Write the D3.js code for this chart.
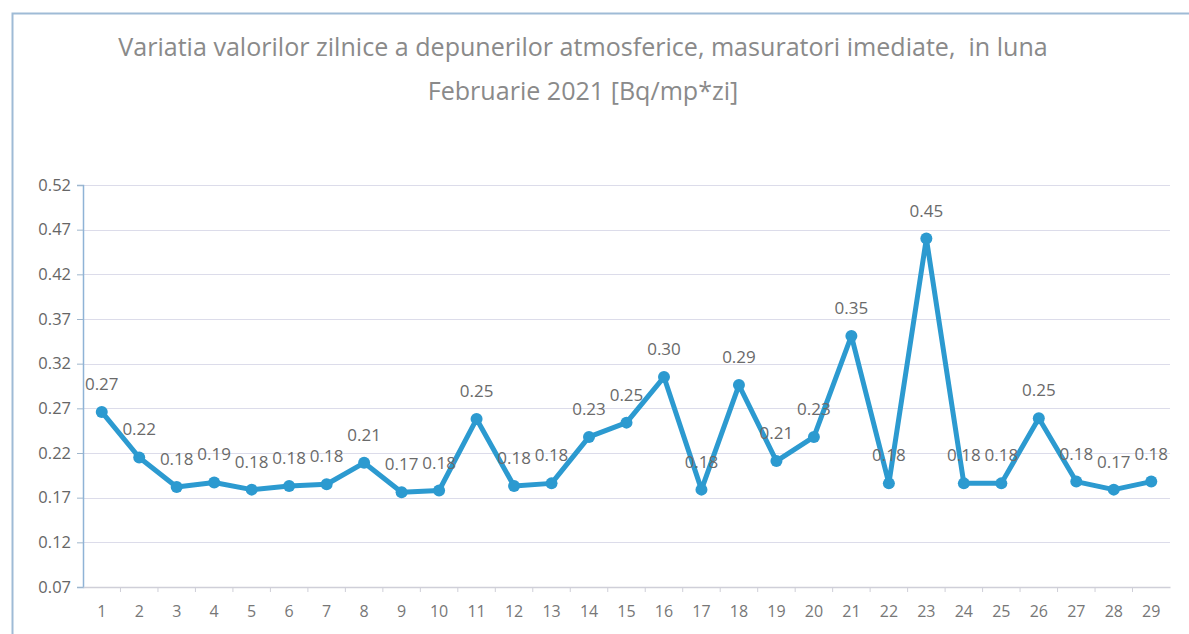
<!DOCTYPE html>
<html>
<head>
<meta charset="utf-8">
<script src="https://cdn.jsdelivr.net/npm/d3@7"></script>
<style>
  body { margin: 0; background: #fff; }
  svg { display: block; font-family: "Open Sans", "Noto Sans", sans-serif; }
</style>
</head>
<body>
<div id="chart"></div>
<script>
// data
const days = d3.range(1, 30).map(String);
const values = [0.266, 0.215, 0.182, 0.187, 0.179, 0.183, 0.185, 0.209, 0.176, 0.178,
  0.258, 0.183, 0.186, 0.238, 0.254, 0.305, 0.179, 0.296, 0.211, 0.238,
  0.351, 0.186, 0.460, 0.186, 0.186, 0.259, 0.188, 0.179, 0.188];
const valueLabels = ['0.27', '0.22', '0.18', '0.19', '0.18', '0.18', '0.18', '0.21', '0.17', '0.18',
  '0.25', '0.18', '0.18', '0.23', '0.25', '0.30', '0.18', '0.29', '0.21', '0.23',
  '0.35', '0.18', '0.45', '0.18', '0.18', '0.25', '0.18', '0.17', '0.18'];
const yTicks = [0.07, 0.12, 0.17, 0.22, 0.27, 0.32, 0.37, 0.42, 0.47, 0.52];
const titleLines = [
  'Variatia valorilor zilnice a depunerilor atmosferice, masuratori imediate,  in luna',
  'Februarie 2021 [Bq/mp*zi]'
];

const W = 1189;
const H = 634;
const margin = { t: 185, r: 19, b: 47, l: 83 };

const svg = d3.select('#chart').append('svg')
  .attr('width', W)
  .attr('height', H);

// chart frame
svg.append('rect')
  .attr('x', 12.5)
  .attr('y', 13.5)
  .attr('width', W + 20)
  .attr('height', H + 20)
  .attr('fill', 'none')
  .attr('stroke', '#9fbbd6')
  .attr('stroke-width', 2);

// title
const title = svg.append('g').attr('fill', '#8a8a8a');
title.selectAll('text')
  .data(titleLines)
  .join('text')
  .attr('x', 583)
  .attr('y', (d, i) => 56 + i * 44)
  .attr('text-anchor', 'middle')
  .attr('font-size', 19)
  .style('white-space', 'pre')
  .text(d => d);
const first = title.select('text').node();
const len = first.getComputedTextLength();
title.selectAll('text').attr('font-size', 19 * 930 / len);

const x = d3.scaleBand()
  .domain(days)
  .range([margin.l, W - margin.r]);

const y = d3.scaleLinear()
  .domain([0.07, 0.52])
  .range([H - margin.b, margin.t]);

// gridlines
svg.append('g')
  .selectAll('line')
  .data(yTicks.slice(1))
  .join('line')
  .attr('x1', margin.l)
  .attr('x2', W - margin.r)
  .attr('y1', d => Math.round(y(d)) + 0.5)
  .attr('y2', d => Math.round(y(d)) + 0.5)
  .attr('stroke', '#dcdcea')
  .attr('stroke-width', 1);

// y axis
const yAxis = d3.axisLeft(y)
  .tickValues(yTicks)
  .tickFormat(d3.format('.2f'))
  .tickSize(6)
  .tickPadding(6);

const gy = svg.append('g')
  .attr('transform', `translate(${margin.l}, 0)`)
  .call(yAxis);
gy.select('.domain').attr('stroke', '#8fb3d6').attr('stroke-width', 1.5);
gy.selectAll('.tick line').attr('stroke', '#9fb6cc');
gy.selectAll('.tick text')
  .attr('fill', '#666')
  .attr('font-size', 16.5)
  .attr('font-family', '"Open Sans", sans-serif');

// x axis
const xAxis = d3.axisBottom(x)
  .tickSize(0)
  .tickPadding(19);

const gx = svg.append('g')
  .attr('transform', `translate(0, ${H - margin.b})`)
  .call(xAxis);
gx.select('.domain').attr('stroke', '#cfcfd8').attr('stroke-width', 1.5);
gx.selectAll('.tick text')
  .attr('fill', '#777')
  .attr('font-size', 16)
  .attr('font-family', '"Open Sans", sans-serif');

// small ticks between categories
gx.append('g')
  .selectAll('line')
  .data(days.slice(1))
  .join('line')
  .attr('x1', d => x(d))
  .attr('x2', d => x(d))
  .attr('y1', 0)
  .attr('y2', 5)
  .attr('stroke', '#cfcfd8');

// series
const cx = (d, i) => x(days[i]) + x.bandwidth() / 2;

const line = d3.line()
  .x(cx)
  .y(d => y(d));

svg.append('path')
  .datum(values)
  .attr('fill', 'none')
  .attr('stroke', '#2c9ad0')
  .attr('stroke-width', 5)
  .attr('stroke-linejoin', 'round')
  .attr('stroke-linecap', 'round')
  .attr('d', line);

svg.append('g')
  .selectAll('circle')
  .data(values)
  .join('circle')
  .attr('cx', cx)
  .attr('cy', d => y(d))
  .attr('r', 6)
  .attr('fill', '#2c9ad0');

// data labels, above each point
svg.append('g')
  .selectAll('text')
  .data(values)
  .join('text')
  .attr('x', cx)
  .attr('y', d => y(d) - 22)
  .attr('text-anchor', 'middle')
  .attr('fill', '#6a6a6a')
  .attr('font-size', 17)
  .text((d, i) => valueLabels[i]);
</script>
</body>
</html>
